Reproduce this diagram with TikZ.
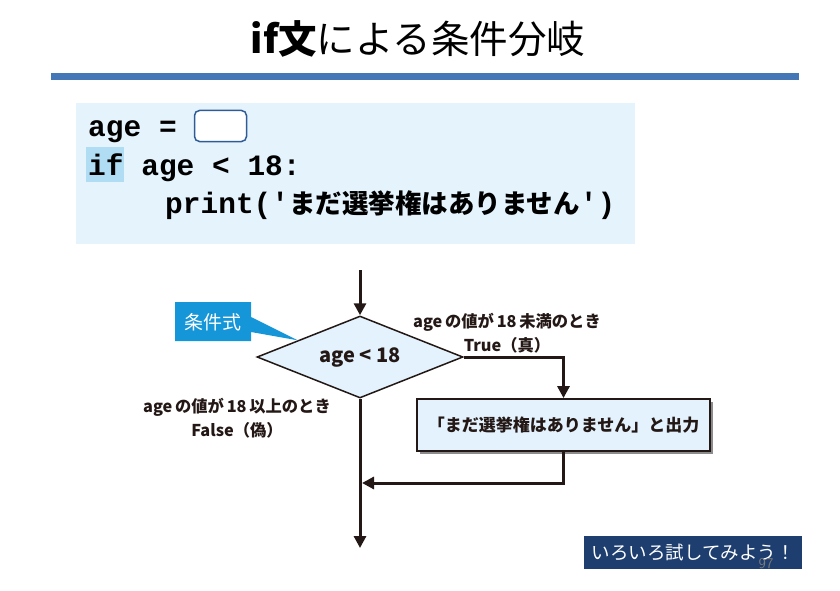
\documentclass[tikz,border=0pt]{standalone}
\usepackage{fontspec}
\setmonofont{Liberation Mono}
\newfontfamily\jp{Noto Sans CJK JP}
\usetikzlibrary{shapes.geometric,arrows.meta,shadows,calc}
\definecolor{rulec}{HTML}{4477B6}
\definecolor{codebg}{HTML}{E4F3FC}
\definecolor{hlc}{HTML}{B0DDF3}
\definecolor{inboxc}{HTML}{2F5C97}
\definecolor{flowbg}{HTML}{E3F2FC}
\definecolor{linec}{HTML}{231815}
\definecolor{callc}{HTML}{1496D8}
\definecolor{navyc}{HTML}{1D3E6E}
\definecolor{pgc}{HTML}{7A7A7A}
\tikzset{
  codetext/.style={anchor=base west, inner sep=0pt, font=\ttfamily\bfseries\fontsize{29.5}{30}\selectfont},
  flow/.style={draw=linec, line width=3pt, -{Triangle[length=12pt,width=12pt]}},
  lbl/.style={inner sep=0pt, font=\jp\bfseries\fontsize{16.3}{18}\selectfont, text=linec},
  procbox/.style={draw=linec, line width=1.8pt, fill=flowbg, minimum width=293pt, minimum height=52pt, inner sep=0pt,
    font=\jp\bfseries\fontsize{17}{19}\selectfont, text=linec,
    drop shadow={shadow xshift=2.5pt, shadow yshift=-2.5pt, fill=black!45, opacity=1}},
  decision/.style={diamond, shape aspect=2.5, draw=linec, line width=1.5pt, fill=flowbg, minimum width=206pt, minimum height=82pt, inner sep=0pt,
    font=\jp\bfseries\fontsize{20}{22}\selectfont, text=linec}
}
\begin{document}
\begin{tikzpicture}[x=1pt,y=-1pt]
\useasboundingbox (0,0) rectangle (840,591);
% title
\node[inner sep=0pt, font=\jp\fontsize{38.5}{42}\selectfont] (title) at (418,39) {{\bfseries if文}による条件分岐};
\fill[rulec] (51,73) rectangle (799,80);
% code box
\node[fill=codebg, anchor=north west, minimum width=559pt, minimum height=141pt, inner sep=0pt] (codebox) at (76,103) {};
\fill[hlc] (86,147) rectangle (124,182);
\node[codetext] (l1) at (88,136) {age =};
\node[draw=inboxc, line width=1.5pt, rounded corners=5pt, fill=white, minimum width=52pt, minimum height=31pt, inner sep=0pt] (inp) at (220.5,126) {};
\node[codetext] (l2) at (88,175) {if age < 18:};
\node[codetext] (l3) at (165,213) {print('{\jp\fontsize{26.5}{27}\selectfont まだ選挙権はありません}')};
% flowchart
\node[decision] (cond) at (360,357) {age < 18};
\coordinate (start) at (360,270);
\draw[flow] (start) -- (cond.north);
% callout
\coordinate (tip) at ($(cond.west)!0.4!(cond.north)$);
\fill[callc] (175,302) -- (251,302) -- (251,317) -- (tip) -- (251,332) -- (251,341) -- (175,341) -- cycle;
\node[inner sep=0pt, text=white, font=\jp\fontsize{19}{20}\selectfont] (call) at (213,322) {条件式};
% process box
\node[procbox] (proc) at (563.5,425) {「まだ選挙権はありません」と出力};
\draw[flow] (cond.east) -| (proc.north);
\coordinate (end) at (360,548);
\draw[flow] (cond.south) -- (end);
\coordinate (merge) at (362,483);
\draw[flow] (proc.south) |- (merge);
% labels
\node[lbl] (tlab1) at (507,322) {age\,の値が\,18\,未満のとき};
\node[lbl] (tlab2) at (507,345) {True（真）};
\node[lbl] (flab1) at (237,407) {age\,の値が\,18\,以上のとき};
\node[lbl] (flab2) at (237,430) {False（偽）};
% bottom button
\node[fill=navyc, text=white, minimum width=218pt, minimum height=33pt, inner sep=0pt, font=\jp\fontsize{18.5}{20}\selectfont] (try) at (693,552.5) {いろいろ試してみよう！};
\node[inner sep=0pt, text=pgc, font=\sffamily\fontsize{15}{15}\selectfont] (pg) at (766,564) {97};
\end{tikzpicture}
\end{document}
